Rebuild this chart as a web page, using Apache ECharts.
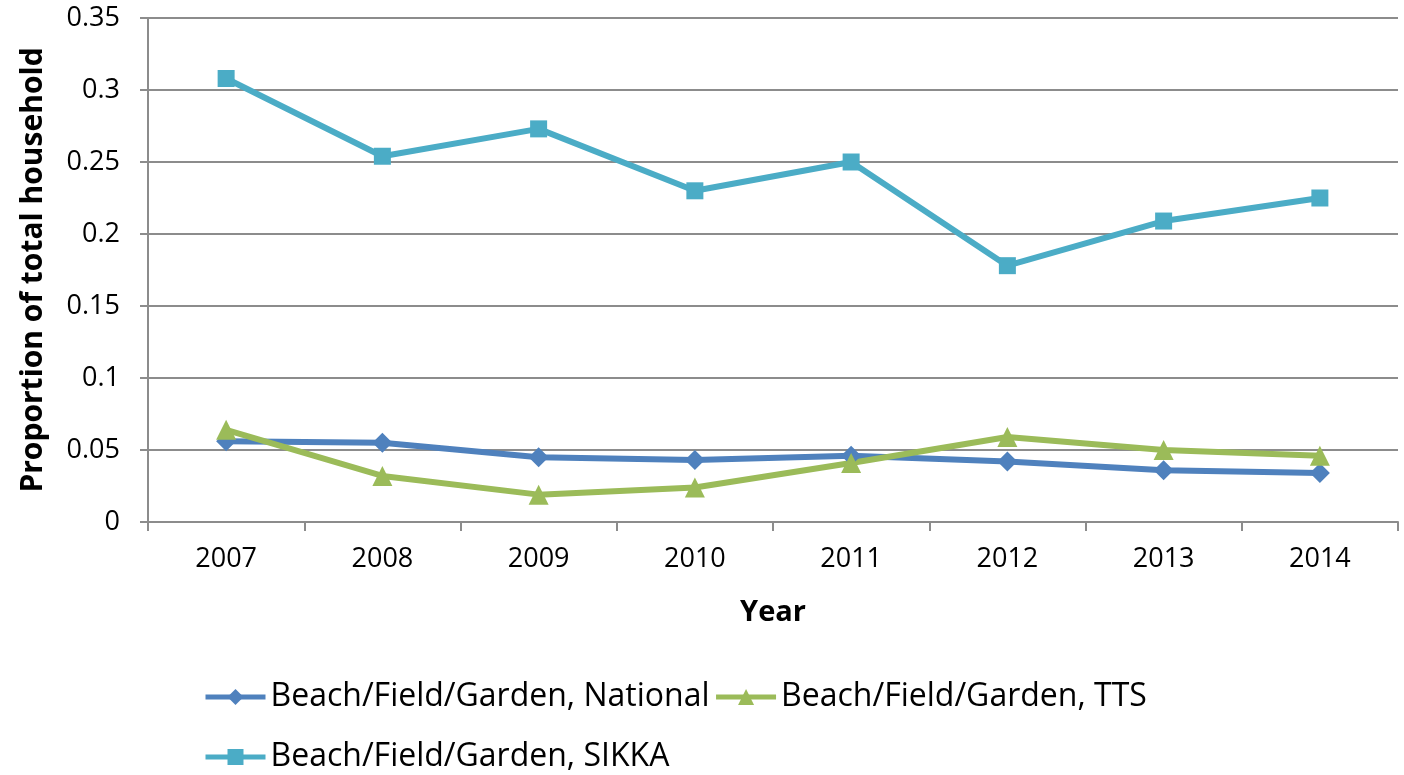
<!DOCTYPE html>
<html>
<head>
<meta charset="utf-8">
<script src="https://cdn.jsdelivr.net/npm/echarts@6/dist/echarts.min.js"></script>
<style>html,body{margin:0;padding:0;background:#fff}#c{width:1404px;height:775px}</style>
</head>
<body>
<div id="c"></div>
<script>
const years = ['2007','2008','2009','2010','2011','2012','2013','2014'];
const national = [0.056, 0.055, 0.045, 0.043, 0.046, 0.042, 0.036, 0.034];
const tts = [0.064, 0.032, 0.019, 0.024, 0.041, 0.059, 0.050, 0.046];
const sikka = [0.308, 0.254, 0.273, 0.230, 0.250, 0.178, 0.209, 0.225];
const names = ['Beach/Field/Garden, National','Beach/Field/Garden, TTS','Beach/Field/Garden, SIKKA'];
const FONT = '"Open Sans", "Liberation Sans", sans-serif';
const chart = echarts.init(document.getElementById('c'));
const gray = '#8c8c8c';
const legendCommon = { itemWidth: 60, itemHeight: 20, itemGap: 4,
  lineStyle: { width: 5 },
  textStyle: { fontSize: 32, color: '#000', fontFamily: FONT } };
chart.setOption({
  animation: false,
  textStyle: { fontFamily: FONT },
  grid: { left: 148, right: 6, top: 18, bottom: 253, containLabel: false },
  legend: [
    Object.assign({ data: [names[0], names[1]], left: 198, top: 676 }, legendCommon),
    Object.assign({ data: [names[2]], left: 198, top: 736 }, legendCommon)
  ],
  xAxis: {
    type: 'category', data: years, boundaryGap: true,
    name: 'Year', nameLocation: 'middle', nameGap: 76,
    nameTextStyle: { fontSize: 29, fontWeight: 'bold', color: '#000', fontFamily: FONT },
    axisLine: { lineStyle: { color: gray, width: 2 } },
    axisTick: { show: true, length: 9, lineStyle: { color: gray, width: 2 } },
    axisLabel: { fontSize: 27, color: '#000', margin: 24 },
    splitLine: { show: false }
  },
  yAxis: {
    type: 'value', min: 0, max: 0.35, interval: 0.05,
    name: 'Proportion of total household', nameLocation: 'middle', nameGap: 100, nameRotate: 90,
    nameTextStyle: { fontSize: 30, fontWeight: 'bold', color: '#000', fontFamily: FONT },
    axisLine: { show: true, lineStyle: { color: gray, width: 2 } },
    axisTick: { show: true, length: 8, lineStyle: { color: gray, width: 2 } },
    axisLabel: { fontSize: 27, color: '#000', margin: 28,
      formatter: v => String(parseFloat(v.toFixed(2))) },
    splitLine: { show: true, lineStyle: { color: gray, width: 2 } }
  },
  series: [
    { name: names[0], type: 'line', data: national, color: '#4F81BD',
      symbol: 'diamond', symbolSize: 20, lineStyle: { width: 6 } },
    { name: names[1], type: 'line', data: tts, color: '#9BBB59',
      symbol: 'triangle', symbolSize: 20, lineStyle: { width: 6 } },
    { name: names[2], type: 'line', data: sikka, color: '#4BACC6',
      symbol: 'rect', symbolSize: 17, lineStyle: { width: 6 } }
  ]
});
</script>
</body>
</html>
